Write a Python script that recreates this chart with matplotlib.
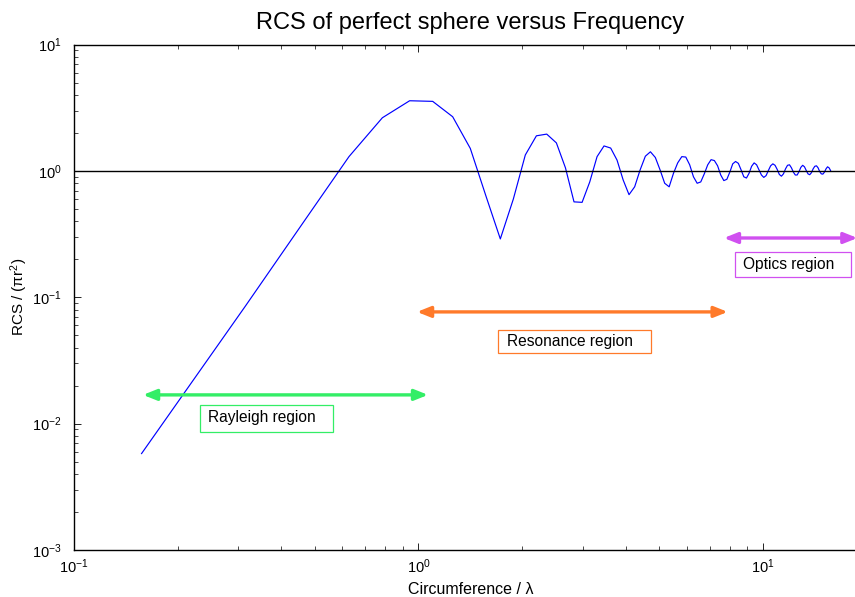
import numpy as np
import matplotlib
matplotlib.use("Agg")
import matplotlib.pyplot as plt
from matplotlib.patches import Rectangle

plt.rcParams['font.family'] = ['Liberation Sans', 'DejaVu Sans']
plt.rcParams['mathtext.fontset'] = 'custom'
plt.rcParams['mathtext.rm'] = 'Liberation Sans'
plt.rcParams['mathtext.it'] = 'Liberation Sans:italic'
plt.rcParams['mathtext.bf'] = 'Liberation Sans:bold'

# sphere radius in wavelengths, sampled in steps of 0.025
radius_over_wavelength = np.arange(1, 101) * 0.025
circumference = 2 * np.pi * radius_over_wavelength

# normalised monostatic RCS  sigma / (pi r^2)
rcs_norm = [
    0.0058, 0.085, 0.42, 1.30, 2.64, 3.60, 3.56, 2.69, 1.51, 0.63,
    0.29, 0.60, 1.34, 1.90, 1.96, 1.67, 1.06, 0.57, 0.565, 0.82,
    1.30, 1.58, 1.52, 1.22, 0.85, 0.65, 0.75, 1.02, 1.31, 1.42,
    1.28, 1.02, 0.80, 0.75, 0.96, 1.16, 1.30, 1.29, 1.12, 0.90,
    0.80, 0.82, 0.95, 1.12, 1.23, 1.21, 1.10, 0.93, 0.84, 0.86,
    0.98, 1.14, 1.19, 1.15, 1.02, 0.90, 0.88, 0.96, 1.09, 1.16,
    1.12, 1.02, 0.93, 0.89, 0.92, 1.01, 1.10, 1.14, 1.11, 1.03,
    0.94, 0.91, 0.95, 1.04, 1.11, 1.12, 1.06, 0.98, 0.93, 0.93,
    0.99, 1.07, 1.11, 1.08, 1.01, 0.95, 0.935, 0.97, 1.04, 1.09,
    1.10, 1.06, 0.99, 0.95, 0.945, 0.98, 1.04, 1.08, 1.06, 1.01,
]

# region annotations
region_names = ["Rayleigh region", "Resonance region", "Optics region"]
region_colors = ["#33ee66", "#ff7a2a", "#d050f0"]
arrow_x_start = [0.1586, 0.99, 7.7]
arrow_x_end = [1.066, 7.9, 18.8]
arrow_level = [0.0169, 0.0767, 0.295]
box_x0 = [0.232, 1.701, 8.29]
box_x1 = [0.565, 4.73, 18.0]
box_y0 = [0.00861, 0.0363, 0.145]
box_y1 = [0.0141, 0.0552, 0.2287]
text_x = [0.245, 1.807, 8.75]
text_y = [0.0111, 0.0444, 0.1804]

fig = plt.figure(figsize=(8.55, 5.97), dpi=100)
ax = fig.add_axes([74 / 855, 47 / 597, (866.7 - 74) / 855, 505.3 / 597])

ax.plot(circumference, rcs_norm, color="#0000ff", lw=0.85)
ax.axhline(1.0, color="black", lw=1.0)

ax.set_xscale("log")
ax.set_yscale("log")
ax.set_xlim(0.1, 20)
ax.set_ylim(1e-3, 1e1)

for i, name in enumerate(region_names):
    col = region_colors[i]
    ax.annotate("", xy=(arrow_x_end[i], arrow_level[i]),
                xytext=(arrow_x_start[i], arrow_level[i]),
                arrowprops=dict(arrowstyle="<|-|>,head_length=0.8,head_width=0.32",
                                color=col, lw=2.4, shrinkA=0, shrinkB=0))
    ax.add_patch(Rectangle((box_x0[i], box_y0[i]), box_x1[i] - box_x0[i],
                           box_y1[i] - box_y0[i], fc="white", ec=col, lw=0.9,
                           zorder=3))
    ax.text(text_x[i], text_y[i], name, fontsize=11.2, color="black",
            va="center", ha="left", zorder=4)

ax.set_title("RCS of perfect sphere versus Frequency", fontsize=17, pad=11)
ax.set_xlabel("Circumference / λ", fontsize=11.5, labelpad=5)
ax.set_ylabel("RCS / (πr$^2$)", fontsize=11, va="center")
ax.yaxis.set_label_coords(-0.069, 0.5)

ax.tick_params(which="both", direction="in", top=True, right=True, labelsize=10.5)
ax.tick_params(axis="y", which="major", pad=9)
ax.tick_params(axis="x", which="major", pad=5)
ax.tick_params(which="major", length=5, width=0.6)
ax.tick_params(which="minor", length=3, width=0.5)
for s in ax.spines.values():
    s.set_linewidth(1.0)

fig.savefig("out.png", dpi=100)
